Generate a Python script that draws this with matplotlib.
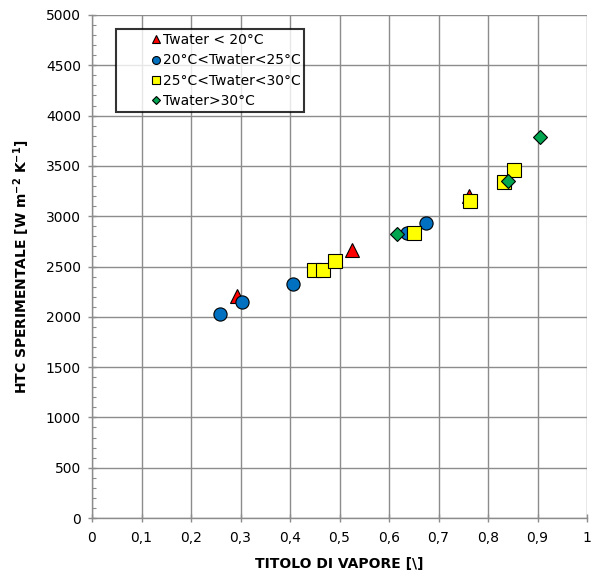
import matplotlib
matplotlib.use("Agg")
import matplotlib.pyplot as plt
from matplotlib.ticker import MultipleLocator, FuncFormatter

plt.rcParams['font.family'] = ['DejaVu Sans']
plt.rcParams['mathtext.fontset'] = 'custom'
plt.rcParams['mathtext.rm'] = 'DejaVu Sans:bold'
plt.rcParams['mathtext.bf'] = 'DejaVu Sans:bold'

labels = ["Twater < 20°C", "20°C<Twater<25°C", "25°C<Twater<30°C", "Twater>30°C"]

red_x = [0.292, 0.525, 0.762]
red_y = [2210, 2660, 3200]
blue_x = [0.258, 0.303, 0.407, 0.636, 0.675]
blue_y = [2030, 2150, 2325, 2835, 2935]
yellow_x = [0.448, 0.467, 0.490, 0.650, 0.764, 0.833, 0.853]
yellow_y = [2470, 2470, 2550, 2830, 3155, 3335, 3460]
green_x = [0.617, 0.840, 0.905]
green_y = [2825, 3345, 3785]

fig = plt.figure(figsize=(5.91, 5.83), dpi=100)
ax = fig.add_axes([92/591, 1-518/583, 495/591, 503/583])

grid_c = '#8c8c8c'
ax.set_xlim(0, 1)
ax.set_ylim(0, 5000)
ax.xaxis.set_major_locator(MultipleLocator(0.1))
ax.yaxis.set_major_locator(MultipleLocator(500))
ax.yaxis.set_minor_locator(MultipleLocator(100))
ax.grid(True, which='major', color=grid_c, linewidth=1.0)
ax.set_axisbelow(True)
for s in ['top', 'right']:
    ax.spines[s].set_visible(False)
for s in ['left', 'bottom']:
    ax.spines[s].set_color(grid_c)
    ax.spines[s].set_linewidth(1.0)

def xfmt(v, pos):
    s = ('%.1f' % v)
    if s.endswith('.0'):
        s = s[:-2]
    return s.replace('.', ',')

ax.xaxis.set_major_formatter(FuncFormatter(xfmt))
ax.tick_params(axis='both', which='major', direction='inout', length=6, color=grid_c,
               labelsize=10, labelcolor='black', width=1.0)
ax.tick_params(axis='y', which='minor', direction='in', length=3, color=grid_c, width=0.8)
ax.tick_params(axis='x', which='major', pad=6.5)
ax.tick_params(axis='y', which='major', pad=5)

kw = dict(linestyle='none', markeredgecolor='black', markeredgewidth=0.8)
ax.plot(red_x, red_y, marker='^', markersize=9.5, markerfacecolor='#ff0000', label=labels[0], **kw)
ax.plot(blue_x, blue_y, marker='o', markersize=9.5, markerfacecolor='#0070c0', label=labels[1], **kw)
ax.plot(yellow_x, yellow_y, marker='s', markersize=10, markerfacecolor='#ffff00', label=labels[2], **kw)
ax.plot(green_x, green_y, marker='D', markersize=7.5, markerfacecolor='#00a550', label=labels[3], **kw)

leg = ax.legend(loc='upper left', bbox_to_anchor=(0.048, 0.972), fontsize=10,
                markerscale=0.6, frameon=True, fancybox=False, handlelength=5.2,
                handletextpad=-2.1, labelspacing=0.46, borderpad=0.28, borderaxespad=0)
leg.get_frame().set_edgecolor('black')
leg.get_frame().set_linewidth(1.5)

ax.set_xlabel('TITOLO DI VAPORE [\\]', fontsize=10, fontweight='bold', labelpad=8.5)
ax.set_ylabel(r'HTC SPERIMENTALE [W m$^{-2}$ K$^{-1}$]', fontsize=10, fontweight='bold', labelpad=10)

fig.savefig('out.png', dpi=100)
